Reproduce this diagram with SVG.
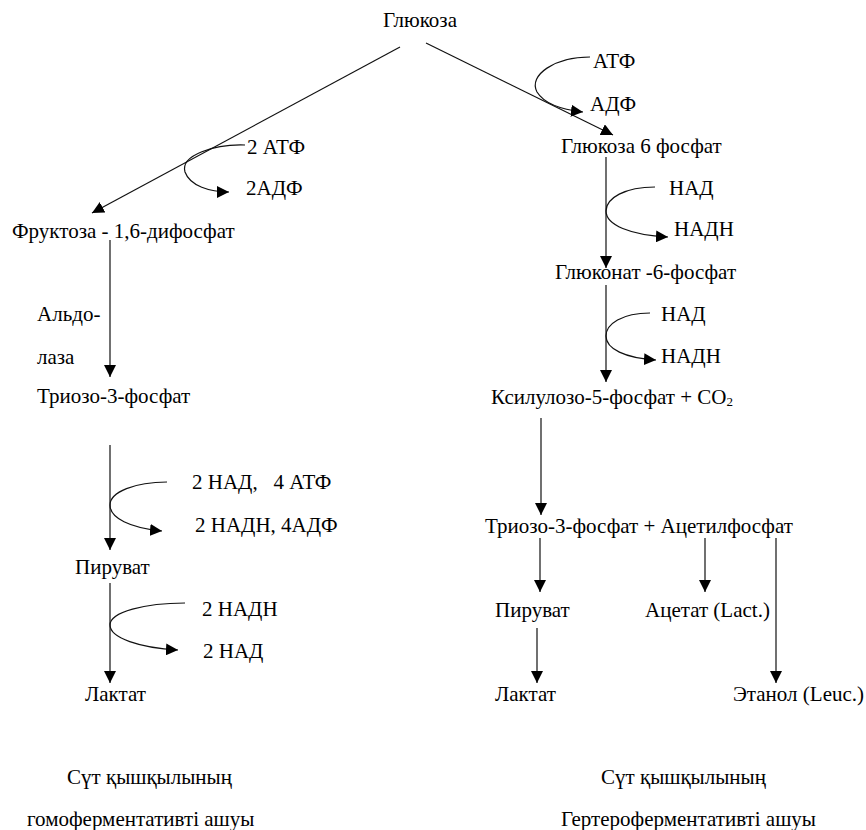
<svg xmlns="http://www.w3.org/2000/svg" width="866" height="830" viewBox="0 0 866 830" font-family="'Liberation Serif', 'Times New Roman', serif" font-size="21">
<defs>
<marker id="ah" markerUnits="userSpaceOnUse" markerWidth="12" markerHeight="12" viewBox="0 0 12 12" refX="12" refY="6" orient="auto">
<path d="M0,0 L12,6 L0,12 z" fill="#000"/>
</marker>
<style>
text{font-family:'Liberation Serif','Times New Roman',serif;font-size:21px;fill:#000}
.c{fill:none;stroke:#111;stroke-width:1.2;marker-end:url(#ah)}
</style>
</defs>
<rect width="866" height="830" fill="#fff"/>
<g id="connectors">
<path class="c" d="M400,47 L92,213"/>
<path class="c" d="M426,43 L613,135"/>
<path class="c" d="M245,145 C215,144 180,155 185,172 C190,186 210,192 229,192"/>
<path class="c" d="M590,57 C555,57 528,75 537,92 C545,105 565,110 583,112"/>
<path class="c" d="M606,157 L606,268"/>
<path class="c" d="M655,187 C625,187 606,198 606,211 C606,225 630,235 668,237"/>
<path class="c" d="M606,285 L606,382"/>
<path class="c" d="M650,313 C622,313 606,324 606,336 C606,349 625,358 656,360"/>
<path class="c" d="M541,418 L541,515"/>
<path class="c" d="M110,240 L110,377"/>
<path class="c" d="M110,445 L110,550"/>
<path class="c" d="M167,482 C135,482 110,492 110,505 C110,518 130,528 162,531"/>
<path class="c" d="M110,583 L110,683"/>
<path class="c" d="M185,603 C145,603 110,612 110,625 C110,638 140,648 178,650"/>
<path class="c" d="M540,538 L540,592"/>
<path class="c" d="M705,538 L705,592"/>
<path class="c" d="M776,538 L776,683"/>
<path class="c" d="M537,628 L537,683"/>
</g>
<g id="glucose"><text x="383" y="27">Глюкоза</text></g>
<g id="atf-r"><text x="593" y="68">АТФ</text></g>
<g id="adf-r"><text x="590" y="111">АДФ</text></g>
<g id="g6p"><text x="561" y="153">Глюкоза 6 фосфат</text></g>
<g id="nad1"><text x="669" y="195">НАД</text></g>
<g id="nadh1"><text x="674" y="236">НАДН</text></g>
<g id="gluconate"><text x="555" y="279">Глюконат -6-фосфат</text></g>
<g id="nad2"><text x="661" y="321">НАД</text></g>
<g id="nadh2"><text x="661" y="363">НАДН</text></g>
<g id="xylulose"><text x="491" y="404">Ксилулозо-5-фосфат + CO<tspan font-size="13" dy="2">2</tspan></text></g>
<g id="atf-l"><text x="247" y="154">2 АТФ</text></g>
<g id="adf-l"><text x="246" y="195">2АДФ</text></g>
<g id="fructose"><text x="12" y="238">Фруктоза - 1,6-дифосфат</text></g>
<g id="aldolase"><text x="37" y="321">Альдо-</text><text x="37" y="364">лаза</text></g>
<g id="triose-l"><text x="37" y="403">Триозо-3-фосфат</text></g>
<g id="nad-atf"><text x="192" y="489" xml:space="preserve">2 НАД,   4 АТФ</text></g>
<g id="nadh-adf"><text x="195" y="532">2 НАДН, 4АДФ</text></g>
<g id="pyruvate-l"><text x="75" y="574">Пируват</text></g>
<g id="nadh3"><text x="202" y="616">2 НАДН</text></g>
<g id="nad3"><text x="203" y="658">2 НАД</text></g>
<g id="lactate-l"><text x="85" y="701">Лактат</text></g>
<g id="caption-l"><text x="67" y="784">Сүт қышқылының</text><text x="27" y="826">гомоферментативті ашуы</text></g>
<g id="triose-r"><text x="485" y="533">Триозо-3-фосфат + Ацетилфосфат</text></g>
<g id="pyruvate-r"><text x="495" y="617">Пируват</text></g>
<g id="acetate"><text x="645" y="617">Ацетат (Lact.)</text></g>
<g id="lactate-r"><text x="495" y="701">Лактат</text></g>
<g id="ethanol"><text x="733" y="701">Этанол (Leuc.)</text></g>
<g id="caption-r"><text x="601" y="784">Сүт қышқылының</text><text x="561" y="826">Гертероферментативті ашуы</text></g>
</svg>
